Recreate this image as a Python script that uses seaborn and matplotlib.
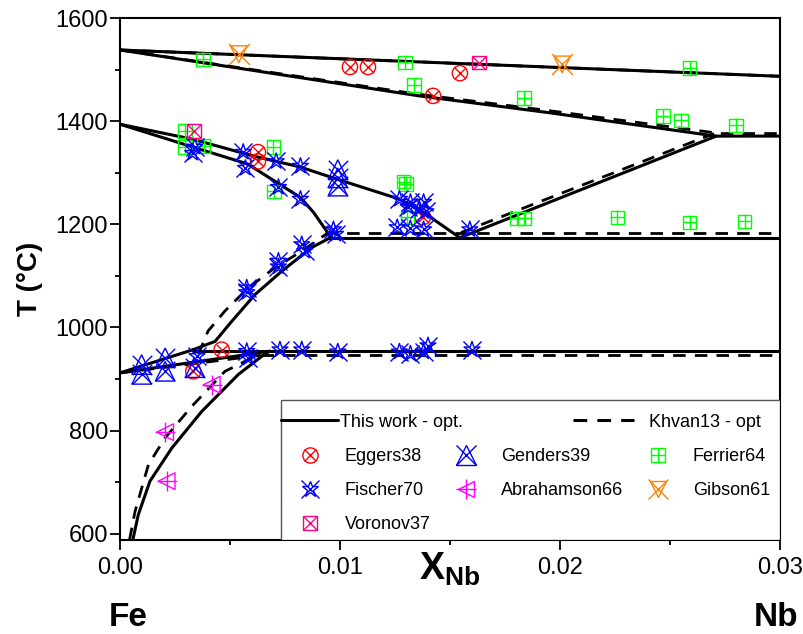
import matplotlib
matplotlib.use("Agg")
import matplotlib.pyplot as plt
from matplotlib.lines import Line2D
from matplotlib.patches import Rectangle
import seaborn as sns


# phase boundaries - this work (solid)
liq_x = [0.0, 0.03]
liq_T = [1538, 1487]
sol_x = [0.0, 0.0136, 0.0194, 0.0271, 0.03]
sol_T = [1538, 1449, 1417, 1371, 1371]
dup_x = [0.0, 0.0033, 0.0061, 0.0082, 0.0099, 0.0127, 0.0138, 0.01545]
dup_T = [1394, 1365, 1332, 1311, 1287, 1249, 1223, 1174]
dlo_x = [0.0, 0.0033, 0.0058, 0.0082, 0.0088, 0.0096]
dlo_T = [1394, 1350, 1317, 1252, 1223, 1174]
h1174_x = [0.0095, 0.03]
h1174_T = [1174, 1174]
rise_x = [0.01545, 0.0271]
rise_T = [1174, 1371]
aup_x = [0.0, 0.00333]
aup_T = [912, 957]
gsol_x = [0.00333, 0.00432, 0.00508, 0.00614, 0.00735, 0.00871, 0.0096]
gsol_T = [957, 973, 1012, 1064, 1109, 1155, 1175]
h954_x = [0.00333, 0.03]
h954_T = [954, 954]
alo_x = [0.0, 0.0068]
alo_T = [912, 954]
asol_x = [0.00058, 0.00083, 0.00136, 0.00235, 0.00371, 0.00538, 0.00644, 0.0068]
asol_T = [588, 637, 702, 766, 837, 909, 944, 954]

# phase boundaries - Khvan13 (dashed)
k_liq_x = [0.0, 0.03]
k_liq_T = [1538, 1487]
k_sol_x = [0.0, 0.0136, 0.0194, 0.0273, 0.03]
k_sol_T = [1538, 1452, 1421, 1376, 1376]
k_h1184_x = [0.0093, 0.03]
k_h1184_T = [1184, 1184]
k_rise_x = [0.0155, 0.0270]
k_rise_T = [1184, 1376]
k_gsol_x = [0.00356, 0.0040, 0.00477, 0.00583, 0.00705, 0.00826, 0.00947]
k_gsol_T = [948, 993, 1032, 1077, 1116, 1148, 1184]
k_h946_x = [0.0064, 0.03]
k_h946_T = [946, 946]
k_alo_x = [0.0, 0.0064]
k_alo_T = [912, 946]
k_asol_x = [0.00043, 0.00068, 0.00129, 0.00205, 0.00326, 0.00477, 0.00614, 0.0064]
k_asol_T = [588, 643, 734, 786, 847, 915, 944, 946]

# experimental points
eggers_x = [0.01045, 0.01127, 0.01423, 0.01545, 0.00627, 0.00627, 0.01377, 0.00462, 0.00333]
eggers_T = [1505, 1505, 1449, 1493, 1340, 1322, 1214, 957, 915]
genders_x = [0.0099, 0.0099, 0.0099, 0.00098, 0.00098, 0.00205, 0.00205, 0.0034]
genders_T = [1306, 1290, 1274, 928, 909, 941, 915, 922]
ferrier_x = [0.00377, 0.01295, 0.01336, 0.01836, 0.02468, 0.0255, 0.028, 0.0259,
             0.0129, 0.0130, 0.01305, 0.01805, 0.0184, 0.0226, 0.0259, 0.0284,
             0.00295, 0.00295, 0.0038, 0.00697, 0.0070]
ferrier_T = [1520, 1514, 1470, 1445, 1410, 1402, 1392, 1503,
             1283, 1278, 1214, 1212, 1212, 1214, 1204, 1206,
             1381, 1350, 1352, 1350, 1264]
fischer_x = [0.0034, 0.0033, 0.0056, 0.0057, 0.0071, 0.0082, 0.0072, 0.0082,
             0.0127, 0.0132, 0.0138, 0.0139, 0.0131, 0.0136,
             0.0126, 0.0132, 0.0138, 0.0097, 0.0159,
             0.00576, 0.00576, 0.0072, 0.0072, 0.00826, 0.0084, 0.0098,
             0.0035, 0.00576, 0.00583, 0.00727, 0.00826, 0.0099, 0.0127, 0.0132, 0.0138, 0.0140, 0.0160]
fischer_T = [1350, 1338, 1340, 1309, 1322, 1313, 1272, 1249,
             1249, 1243, 1243, 1225, 1233, 1230,
             1194, 1192, 1190, 1190, 1190,
             1077, 1068, 1129, 1118, 1161, 1148, 1181,
             944, 954, 941, 957, 957, 953, 953, 949, 953, 965, 957]
abraham_x = [0.00417, 0.00205, 0.00212]
abraham_T = [889, 797, 702]
gibson_x = [0.0054, 0.0201]
gibson_T = [1530, 1510]
voronov_x = [0.00336, 0.01632]
voronov_T = [1381, 1513]


sns.set_style("ticks")
plt.rcParams["font.family"] = ["Liberation Sans", "DejaVu Sans"]
plt.rcParams["mathtext.fontset"] = "custom"
plt.rcParams["mathtext.rm"] = "Liberation Sans"
plt.rcParams["mathtext.bf"] = "Liberation Sans:bold"
plt.rcParams["text.color"] = "black"
plt.rcParams["axes.labelcolor"] = "black"
plt.rcParams["xtick.color"] = "black"
plt.rcParams["ytick.color"] = "black"

fig = plt.figure(figsize=(8.04, 6.34), dpi=100)
ax = fig.add_axes([0.1493, 0.1483, 0.8208, 0.8233])

solid = [(liq_x, liq_T), (sol_x, sol_T), (dup_x, dup_T), (dlo_x, dlo_T),
         (h1174_x, h1174_T), (rise_x, rise_T), (aup_x, aup_T), (gsol_x, gsol_T),
         (h954_x, h954_T), (alo_x, alo_T), (asol_x, asol_T)]
dashed = [(k_liq_x, k_liq_T), (k_sol_x, k_sol_T), (k_h1184_x, k_h1184_T),
          (k_rise_x, k_rise_T), (k_gsol_x, k_gsol_T), (k_h946_x, k_h946_T),
          (k_alo_x, k_alo_T), (k_asol_x, k_asol_T)]

dash_style = (0, (4.5, 3.3))

for xs, ts in dashed:
    sns.lineplot(x=xs, y=ts, color="black", lw=2.0, linestyle=dash_style,
                 estimator=None, sort=False, ax=ax, zorder=2)
for xs, ts in solid:
    sns.lineplot(x=xs, y=ts, color="black", lw=2.2,
                 estimator=None, sort=False, ax=ax, zorder=2)

# colour, base marker, size, overlay marker, size
styles = {
    "Eggers38": ("#FF0000", "o", 11, "x", 8),
    "Genders39": ("#0000FF", "^", 14, "x", 14),
    "Ferrier64": ("#00FF00", "s", 9.5, "+", 9.5),
    "Fischer70": ("#0000FF", "*", 12, "x", 13),
    "Abrahamson66": ("#FF00FF", "<", 12, "+", 15),
    "Gibson61": ("#FF8000", "v", 12, "x", 15),
    "Voronov37": ("#FF0080", "s", 9.5, "x", 9.5),
}
points = {
    "Eggers38": (eggers_x, eggers_T),
    "Genders39": (genders_x, genders_T),
    "Ferrier64": (ferrier_x, ferrier_T),
    "Fischer70": (fischer_x, fischer_T),
    "Abrahamson66": (abraham_x, abraham_T),
    "Gibson61": (gibson_x, gibson_T),
    "Voronov37": (voronov_x, voronov_T),
}

handles = {}
for name, (xs, ts) in points.items():
    col, m1, s1, m2, s2 = styles[name]
    sns.scatterplot(x=xs, y=ts, marker=m1, s=s1 ** 2, facecolors="none",
                    edgecolor=col, linewidth=1.0, legend=False, ax=ax, zorder=3)
    sns.scatterplot(x=xs, y=ts, marker=m2, s=s2 ** 2, color=col,
                    linewidth=1.0, legend=False, ax=ax, zorder=3)
    handles[name] = (
        Line2D([], [], ls="", marker=m1, ms=s1, mfc="none", mec=col, mew=1.0),
        Line2D([], [], ls="", marker=m2, ms=s2, color=col, mew=1.0),
    )

ax.set_xlim(0, 0.03)
ax.set_ylim(588, 1600)
ax.set_xticks([0.0, 0.01, 0.02, 0.03])
ax.set_xticks([0.005, 0.015, 0.025], minor=True)
ax.set_xticklabels(["0.00", "0.01", "0.02", "0.03"])
ax.set_yticks([600, 800, 1000, 1200, 1400, 1600])
ax.set_yticks([700, 900, 1100, 1300, 1500], minor=True)
ax.tick_params(which="major", direction="out", length=7, width=1.3,
               labelsize=17, color="black", labelcolor="black")
ax.tick_params(which="minor", direction="out", length=3.5, width=1.3, color="black")
ax.tick_params(axis="y", pad=1.5)
ax.tick_params(axis="x", pad=5)
for sp in ax.spines.values():
    sp.set_linewidth(1.5)
    sp.set_color("black")

ax.set_ylabel("T (\u00b0C)", fontsize=20, fontweight="bold")
ax.yaxis.set_label_coords(-0.117, 0.5)
ax.set_xlabel(r"$\mathbf{X}_{\mathbf{Nb}}$", fontsize=27)
ax.xaxis.set_label_coords(0.5, -0.02)

fig.text(128 / 804, 1 - 617 / 634, "Fe", fontsize=24, fontweight="bold",
         ha="center", va="center")
fig.text(776 / 804, 1 - 617 / 634, "Nb", fontsize=24, fontweight="bold",
         ha="center", va="center")

# legend box
ax.add_patch(Rectangle((0.244, 0.0), 0.756, 0.268, transform=ax.transAxes,
                       facecolor="white", edgecolor="#555555", lw=1.0, zorder=4))

leg_a = ax.legend([Line2D([], [], color="black", lw=2.2)], ["This work - opt."],
                  loc="center left", bbox_to_anchor=(0.244, 0.226), frameon=False,
                  handlelength=3.15, handletextpad=0.1, borderpad=0,
                  borderaxespad=0, fontsize=13)
leg_a.set_zorder(5)
ax.add_artist(leg_a)

leg_b = ax.legend([Line2D([], [], color="black", lw=2.2, linestyle=dash_style)],
                  ["Khvan13 - opt"], loc="center left",
                  bbox_to_anchor=(0.686, 0.226), frameon=False,
                  handlelength=3.4, handletextpad=0.8, borderpad=0,
                  borderaxespad=0, fontsize=13)
leg_b.set_zorder(5)
ax.add_artist(leg_b)

blank = Line2D([], [], ls="")
order = ["Eggers38", "Fischer70", "Voronov37", "Genders39", "Abrahamson66", None,
         "Ferrier64", "Gibson61", None]
leg_h = [handles[n] if n else blank for n in order]
leg_l = [n if n else "" for n in order]
leg_c = ax.legend(leg_h, leg_l, ncol=3, loc="upper left",
                  bbox_to_anchor=(0.265, 0.176), frameon=False,
                  handlelength=1.67, handletextpad=1.1, columnspacing=1.1,
                  labelspacing=0.95, borderpad=0, borderaxespad=0, fontsize=13)
leg_c.set_zorder(5)

fig.savefig("out.png", dpi=100)
